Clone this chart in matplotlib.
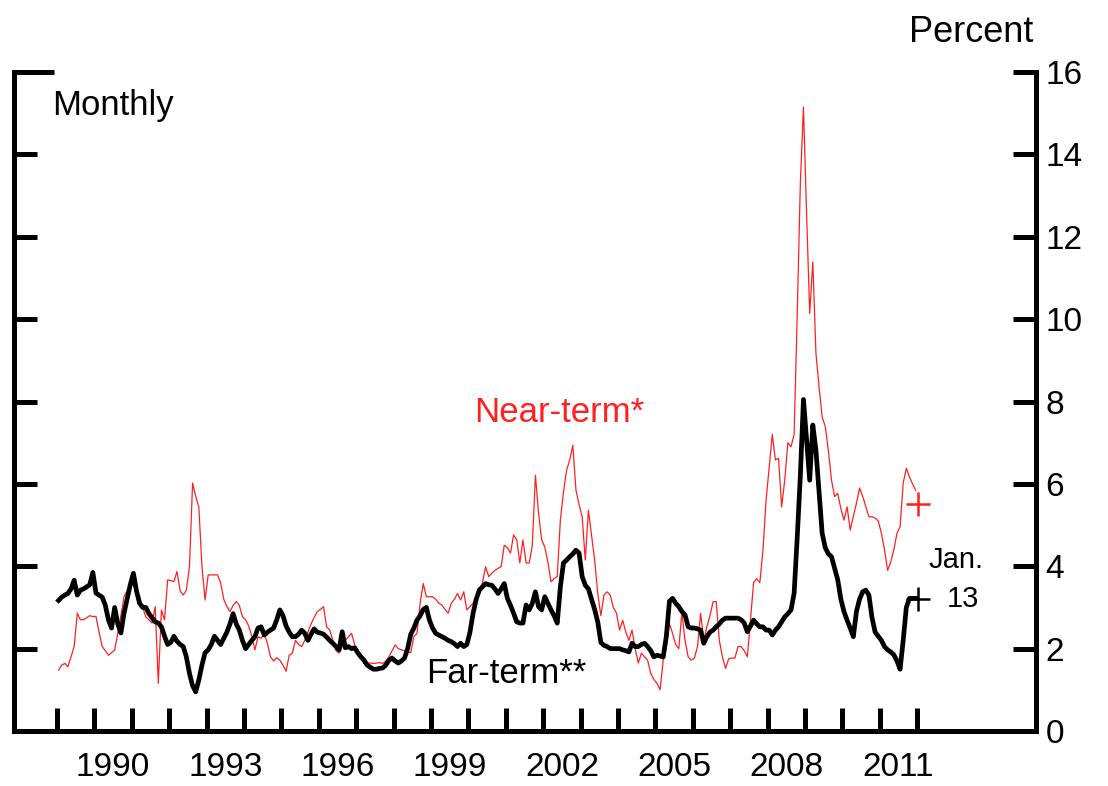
import numpy as np
import matplotlib.pyplot as plt

plt.rcParams['font.family'] = ['Liberation Sans', 'DejaVu Sans']

years = list(range(1989, 2012))

# far-term, monthly values by year (percent)
far_term = [
    [3.17, 3.25, 3.30, 3.34, 3.45, 3.66, 3.30, 3.42, 3.45, 3.50, 3.55, 3.85],  # 1989
    [3.35, 3.30, 3.25, 3.05, 2.70, 2.50, 3.00, 2.60, 2.38, 2.86, 3.20, 3.55],  # 1990
    [3.83, 3.40, 3.10, 3.00, 3.00, 2.85, 2.75, 2.65, 2.62, 2.53, 2.30, 2.10],  # 1991
    [2.15, 2.30, 2.18, 2.10, 2.05, 1.80, 1.40, 1.10, 0.95, 1.24, 1.60, 1.90],  # 1992
    [1.97, 2.10, 2.30, 2.20, 2.10, 2.25, 2.40, 2.60, 2.85, 2.60, 2.45, 2.20],  # 1993
    [2.00, 2.10, 2.20, 2.29, 2.50, 2.53, 2.33, 2.40, 2.45, 2.50, 2.70, 2.94],  # 1994
    [2.80, 2.55, 2.40, 2.29, 2.29, 2.35, 2.45, 2.37, 2.20, 2.35, 2.48, 2.40],  # 1995
    [2.38, 2.35, 2.28, 2.20, 2.13, 2.05, 1.97, 2.41, 2.02, 2.05, 2.00, 2.02],  # 1996
    [1.90, 1.80, 1.72, 1.60, 1.55, 1.50, 1.50, 1.52, 1.53, 1.60, 1.72, 1.77],  # 1997
    [1.70, 1.65, 1.70, 1.77, 2.00, 2.35, 2.50, 2.69, 2.80, 2.95, 3.00, 2.69],  # 1998
    [2.50, 2.37, 2.33, 2.29, 2.25, 2.20, 2.17, 2.12, 2.05, 2.13, 2.05, 2.10],  # 1999
    [2.40, 2.86, 3.20, 3.42, 3.50, 3.58, 3.55, 3.54, 3.45, 3.34, 3.45, 3.58],  # 2000
    [3.22, 3.05, 2.86, 2.65, 2.62, 2.62, 3.06, 2.94, 3.10, 3.38, 3.02, 2.94],  # 2001
    [3.26, 3.10, 2.94, 2.80, 2.62, 3.50, 4.08, 4.15, 4.23, 4.30, 4.39, 4.32],  # 2002
    [3.75, 3.54, 3.45, 3.20, 2.95, 2.65, 2.15, 2.08, 2.05, 2.00, 2.00, 2.00],  # 2003
    [2.00, 1.97, 1.95, 1.92, 2.13, 2.05, 2.05, 2.10, 2.13, 2.05, 1.95, 1.80],  # 2004
    [1.84, 1.82, 1.80, 2.30, 3.15, 3.22, 3.10, 3.02, 2.90, 2.82, 2.53, 2.50],  # 2005
    [2.50, 2.48, 2.45, 2.13, 2.29, 2.40, 2.45, 2.53, 2.60, 2.69, 2.74, 2.74],  # 2006
    [2.74, 2.74, 2.74, 2.70, 2.62, 2.41, 2.55, 2.69, 2.60, 2.53, 2.53, 2.45],  # 2007
    [2.45, 2.33, 2.45, 2.53, 2.65, 2.77, 2.85, 2.94, 3.34, 4.70, 6.20, 8.05],  # 2008
    [7.06, 6.09, 7.43, 6.82, 5.80, 4.80, 4.45, 4.30, 4.23, 3.95, 3.67, 3.20],  # 2009
    [2.90, 2.69, 2.50, 2.29, 2.90, 3.20, 3.38, 3.42, 3.30, 2.75, 2.40, 2.30],  # 2010
    [2.20, 2.05, 1.97, 1.92, 1.85, 1.70, 1.50, 2.20, 3.00, 3.22, 3.22, 3.22],  # 2011
]

# near-term, monthly values by year (percent)
near_term = [
    [1.48, 1.60, 1.64, 1.56, 1.80, 2.05, 2.86, 2.70, 2.70, 2.75, 2.80, 2.78],  # 1989
    [2.78, 2.40, 2.05, 1.95, 1.84, 1.90, 1.97, 2.37, 2.80, 3.26, 3.40, 3.54],  # 1990
    [3.54, 3.40, 3.26, 3.00, 2.77, 2.70, 2.62, 3.02, 1.16, 2.94, 2.70, 3.67],  # 1991
    [3.65, 3.63, 3.87, 3.40, 3.30, 3.42, 3.99, 6.02, 5.70, 5.44, 4.00, 3.18],  # 1992
    [3.79, 3.79, 3.79, 3.79, 3.60, 3.20, 3.02, 2.90, 3.05, 3.14, 3.05, 2.77],  # 1993
    [2.70, 2.55, 2.30, 1.97, 2.29, 2.25, 2.37, 2.13, 1.80, 1.70, 1.78, 1.72],  # 1994
    [1.60, 1.45, 1.84, 1.89, 2.20, 2.10, 2.05, 2.20, 2.40, 2.60, 2.75, 2.90],  # 1995
    [2.95, 3.02, 2.53, 2.45, 2.20, 1.95, 1.89, 2.05, 2.20, 2.29, 2.37, 2.10],  # 1996
    [1.92, 1.80, 1.64, 1.65, 1.65, 1.64, 1.65, 1.66, 1.64, 1.70, 1.80, 1.95],  # 1997
    [2.09, 2.00, 1.97, 1.95, 1.92, 1.90, 2.30, 2.37, 3.10, 3.58, 3.26, 3.26],  # 1998
    [3.26, 3.20, 3.10, 3.06, 2.95, 2.86, 3.10, 3.20, 3.34, 3.18, 3.38, 2.94],  # 1999
    [3.02, 3.10, 3.25, 3.42, 3.60, 3.99, 3.75, 3.83, 3.90, 3.95, 3.99, 4.51],  # 2000
    [4.45, 4.32, 4.76, 4.64, 4.08, 4.64, 4.08, 4.08, 4.50, 6.21, 5.30, 4.64],  # 2001
    [4.47, 4.10, 3.62, 3.70, 3.75, 5.12, 5.80, 6.33, 6.58, 6.94, 5.85, 5.50],  # 2002
    [5.20, 4.15, 5.36, 4.76, 4.15, 3.34, 2.80, 3.30, 3.38, 3.30, 3.00, 2.86],  # 2003
    [2.45, 2.69, 2.40, 2.20, 2.45, 2.00, 1.65, 1.89, 1.80, 1.72, 1.40, 1.25],  # 2004
    [1.16, 1.00, 1.72, 2.05, 2.60, 2.37, 2.10, 2.00, 2.88, 2.20, 1.80, 1.72],  # 2005
    [1.77, 2.05, 2.86, 2.20, 2.53, 2.80, 3.14, 3.14, 2.20, 1.80, 1.52, 1.75],  # 2006
    [1.77, 1.77, 2.05, 2.05, 1.95, 1.80, 2.69, 3.60, 3.70, 3.60, 4.39, 5.60],  # 2007
    [6.40, 7.20, 6.58, 6.62, 5.44, 6.10, 7.00, 6.90, 7.20, 10.10, 13.30, 15.15],  # 2008
    [12.57, 10.14, 11.39, 9.17, 8.36, 7.63, 7.39, 6.80, 6.09, 5.69, 5.77, 5.40],  # 2009
    [5.12, 5.44, 4.88, 5.20, 5.53, 5.90, 5.70, 5.45, 5.20, 5.20, 5.17, 5.10],  # 2010
    [4.80, 4.40, 3.90, 4.10, 4.40, 4.80, 4.96, 6.02, 6.38, 6.17, 6.00, 5.85],  # 2011
]

# daily reading for Jan. 13, 2012
jan13_date = 2012 + 12 / 365
jan13_near = 5.5
jan13_far = 3.2

# monthly observations plotted at mid-month
dates = np.array([y + (m + 0.5) / 12 for y in years for m in range(12)])
far = np.array(far_term).ravel()
near = np.array(near_term).ravel()

fig = plt.figure(figsize=(11.08, 7.86), dpi=100)
ax = fig.add_axes([0.01264, 0.06997, 0.92238, 0.83842])

ax.plot(dates, near, color='#ff2020', lw=0.9)
ax.plot(dates, far, color='black', lw=3.4, solid_joinstyle='round')
ax.plot([jan13_date], [jan13_near], marker='+', color='#ff2020', ms=17, mew=1.8)
ax.plot([jan13_date], [jan13_far], marker='+', color='black', ms=17, mew=1.8)

ax.set_xlim(1987.85, 2015.176)
ax.set_ylim(0, 16)

for side in ['left', 'right', 'bottom']:
    ax.spines[side].set_linewidth(3.6)
ax.spines['top'].set_visible(False)

# y axis: ticks on both sides, labels on the right
ax.set_yticks(np.arange(0, 17, 2))
ax.tick_params(axis='y', which='major', direction='in', length=16.5, width=3.6,
               left=True, right=True, labelleft=False, labelright=True,
               labelsize=24, pad=7)
ax.yaxis.get_major_ticks()[-1].tick1line.set_markersize(29)

# x axis: ticks at year starts, labels at mid-year every third year
ax.set_xticks(np.arange(1989, 2013, 1))
ax.set_xticklabels([])
ax.set_xticks(np.arange(1990.5, 2012, 3), minor=True)
ax.set_xticklabels([str(int(y)) for y in np.arange(1990, 2012, 3)], minor=True)
ax.tick_params(axis='x', which='major', direction='in', length=16.5, width=3.6)
ax.tick_params(axis='x', which='minor', length=0, labelsize=24, pad=15)

ax.text(1988.87, 14.96, 'Monthly', fontsize=25, ha='left', va='baseline')
ax.text(2002.42, 7.50, 'Near-term*', fontsize=25, color='#ff2020', ha='center', va='baseline')
ax.text(2001.0, 1.165, 'Far-term**', fontsize=25, ha='center', va='baseline')
ax.text(2013.04, 3.96, 'Jan.', fontsize=21, ha='center', va='baseline')
ax.text(2013.22, 3.01, '13', fontsize=21, ha='center', va='baseline')
fig.text(0.9323, 0.9466, 'Percent', fontsize=26, ha='right', va='baseline')

fig.savefig('out.png', dpi=100)
